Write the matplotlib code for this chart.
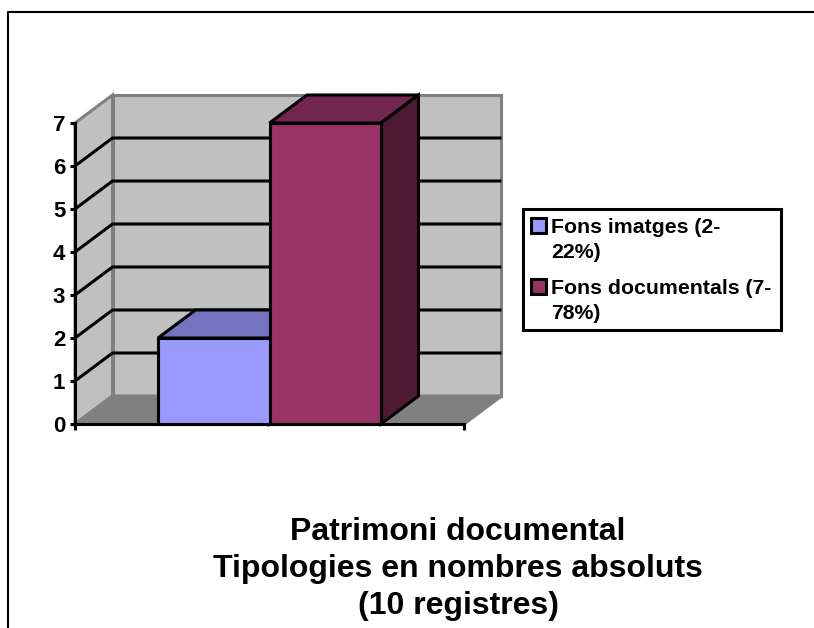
import matplotlib
matplotlib.use("Agg")
import matplotlib.pyplot as plt
from matplotlib.patches import Polygon, Rectangle

plt.rcParams['font.family'] = ['Liberation Sans', 'DejaVu Sans']

W, H = 814, 628

# data
series_names = ["Fons imatges (2-\n22%)", "Fons documentals (7-\n78%)"]
series_values = [2, 7]
y_ticks = [0, 1, 2, 3, 4, 5, 6, 7]
title_lines = ["Patrimoni documental", "Tipologies en nombres absoluts", "(10 registres)"]

# colours
front_colors = ["#9999ff", "#993366"]
top_colors = ["#7373bf", "#732650"]
side_colors = ["#4d4d80", "#4d1a33"]
WALL = "#c0c0c0"
FLOOR = "#808080"
EDGE = "#808080"
LW = 2.2

# 3d look, depth of the box in data units
DX = 37.5 / 389
DY = 28 / 43
GAP = 0.2134
BAR_W = (1 - 2 * GAP) / 2


def px(x, y):
    # pixel position (top left origin) to figure fractions
    return x / W, 1 - y / H


def poly(ax, pts, color, z, edge="black", lw=LW):
    ax.add_patch(Polygon(pts, closed=True, facecolor=color, edgecolor=edge,
                         linewidth=lw, zorder=z, clip_on=False, joinstyle="miter"))


def line(ax, xs, ys, color="black", z=2, lw=LW):
    ax.plot(xs, ys, color=color, lw=lw, zorder=z, clip_on=False, solid_capstyle="butt")


def bar3d(ax, x0, x1, val, front, top, side, z):
    poly(ax, [(x0, val), (x0 + DX, val + DY), (x1 + DX, val + DY), (x1, val)], top, z)
    poly(ax, [(x1, 0), (x1 + DX, DY), (x1 + DX, val + DY), (x1, val)], side, z)
    poly(ax, [(x0, 0), (x1, 0), (x1, val), (x0, val)], front, z + 0.5)


def main():
    fig = plt.figure(figsize=(W / 100, H / 100), dpi=100)

    # frame of the chart area, cut off at the right and bottom of the image
    fx0, fy0 = px(8, 12)
    fig.add_artist(plt.Line2D([fx0, fx0, 1], [0, fy0, fy0], color="black", lw=1.5))

    ax = fig.add_axes([75 / W, 1 - 424 / H, (464 - 75) / W, (424 - 123) / H])
    ax.set_xlim(0, 1)
    ax.set_ylim(0, max(y_ticks))
    ax.patch.set_visible(False)

    top = max(y_ticks)
    # walls and floor
    poly(ax, [(0, 0), (DX, DY), (DX, top + DY), (0, top)], WALL, 1, edge=EDGE)
    poly(ax, [(DX, DY), (1 + DX, DY), (1 + DX, top + DY), (DX, top + DY)], WALL, 1, edge=EDGE)
    poly(ax, [(0, 0), (DX, DY), (1 + DX, DY), (1, 0)], FLOOR, 1, edge=EDGE)

    for v in y_ticks[1:-1]:
        line(ax, [0, DX, 1 + DX], [v, v + DY, v + DY])

    x = GAP
    for i, v in enumerate(series_values):
        bar3d(ax, x, x + BAR_W, v, front_colors[i], top_colors[i], side_colors[i], 3 + i)
        x += BAR_W

    # axes
    for s in ["top", "right"]:
        ax.spines[s].set_visible(False)
    for s in ["left", "bottom"]:
        ax.spines[s].set_linewidth(LW)
        ax.spines[s].set_zorder(8)
    ax.set_yticks(y_ticks)
    ax.set_xticks([0, 1])
    ax.set_xticklabels([])
    ax.tick_params(axis="y", length=3.5, width=LW, labelsize=16, pad=3.5)
    ax.tick_params(axis="x", length=4, width=LW)
    for lab in ax.get_yticklabels():
        lab.set_fontweight("bold")

    # legend box, swatch lines up with first text line
    lx0, ly0 = px(523, 330)
    lx1, ly1 = px(781, 209)
    fig.add_artist(Rectangle((lx0, ly0), lx1 - lx0, ly1 - ly0, transform=fig.transFigure,
                             facecolor="white", edgecolor="black", lw=LW))
    for name, color, ytop in zip(series_names, front_colors, [218, 279]):
        sx, sy = px(531, ytop + 15)
        fig.add_artist(Rectangle((sx, sy), 15 / W, 15 / H, transform=fig.transFigure,
                                 facecolor=color, edgecolor="black", lw=LW))
        tx, ty = px(551, ytop)
        fig.text(tx, ty, name, fontsize=15.3, fontweight="bold", va="top", ha="left", linespacing=1.38)

    # title
    for text, y in zip(title_lines, [532, 569, 606]):
        tx, ty = px(458, y)
        fig.text(tx, ty, text, fontsize=23, fontweight="bold", ha="center", va="center")

    fig.savefig("out.png", dpi=100)


if __name__ == '__main__':
    main()
